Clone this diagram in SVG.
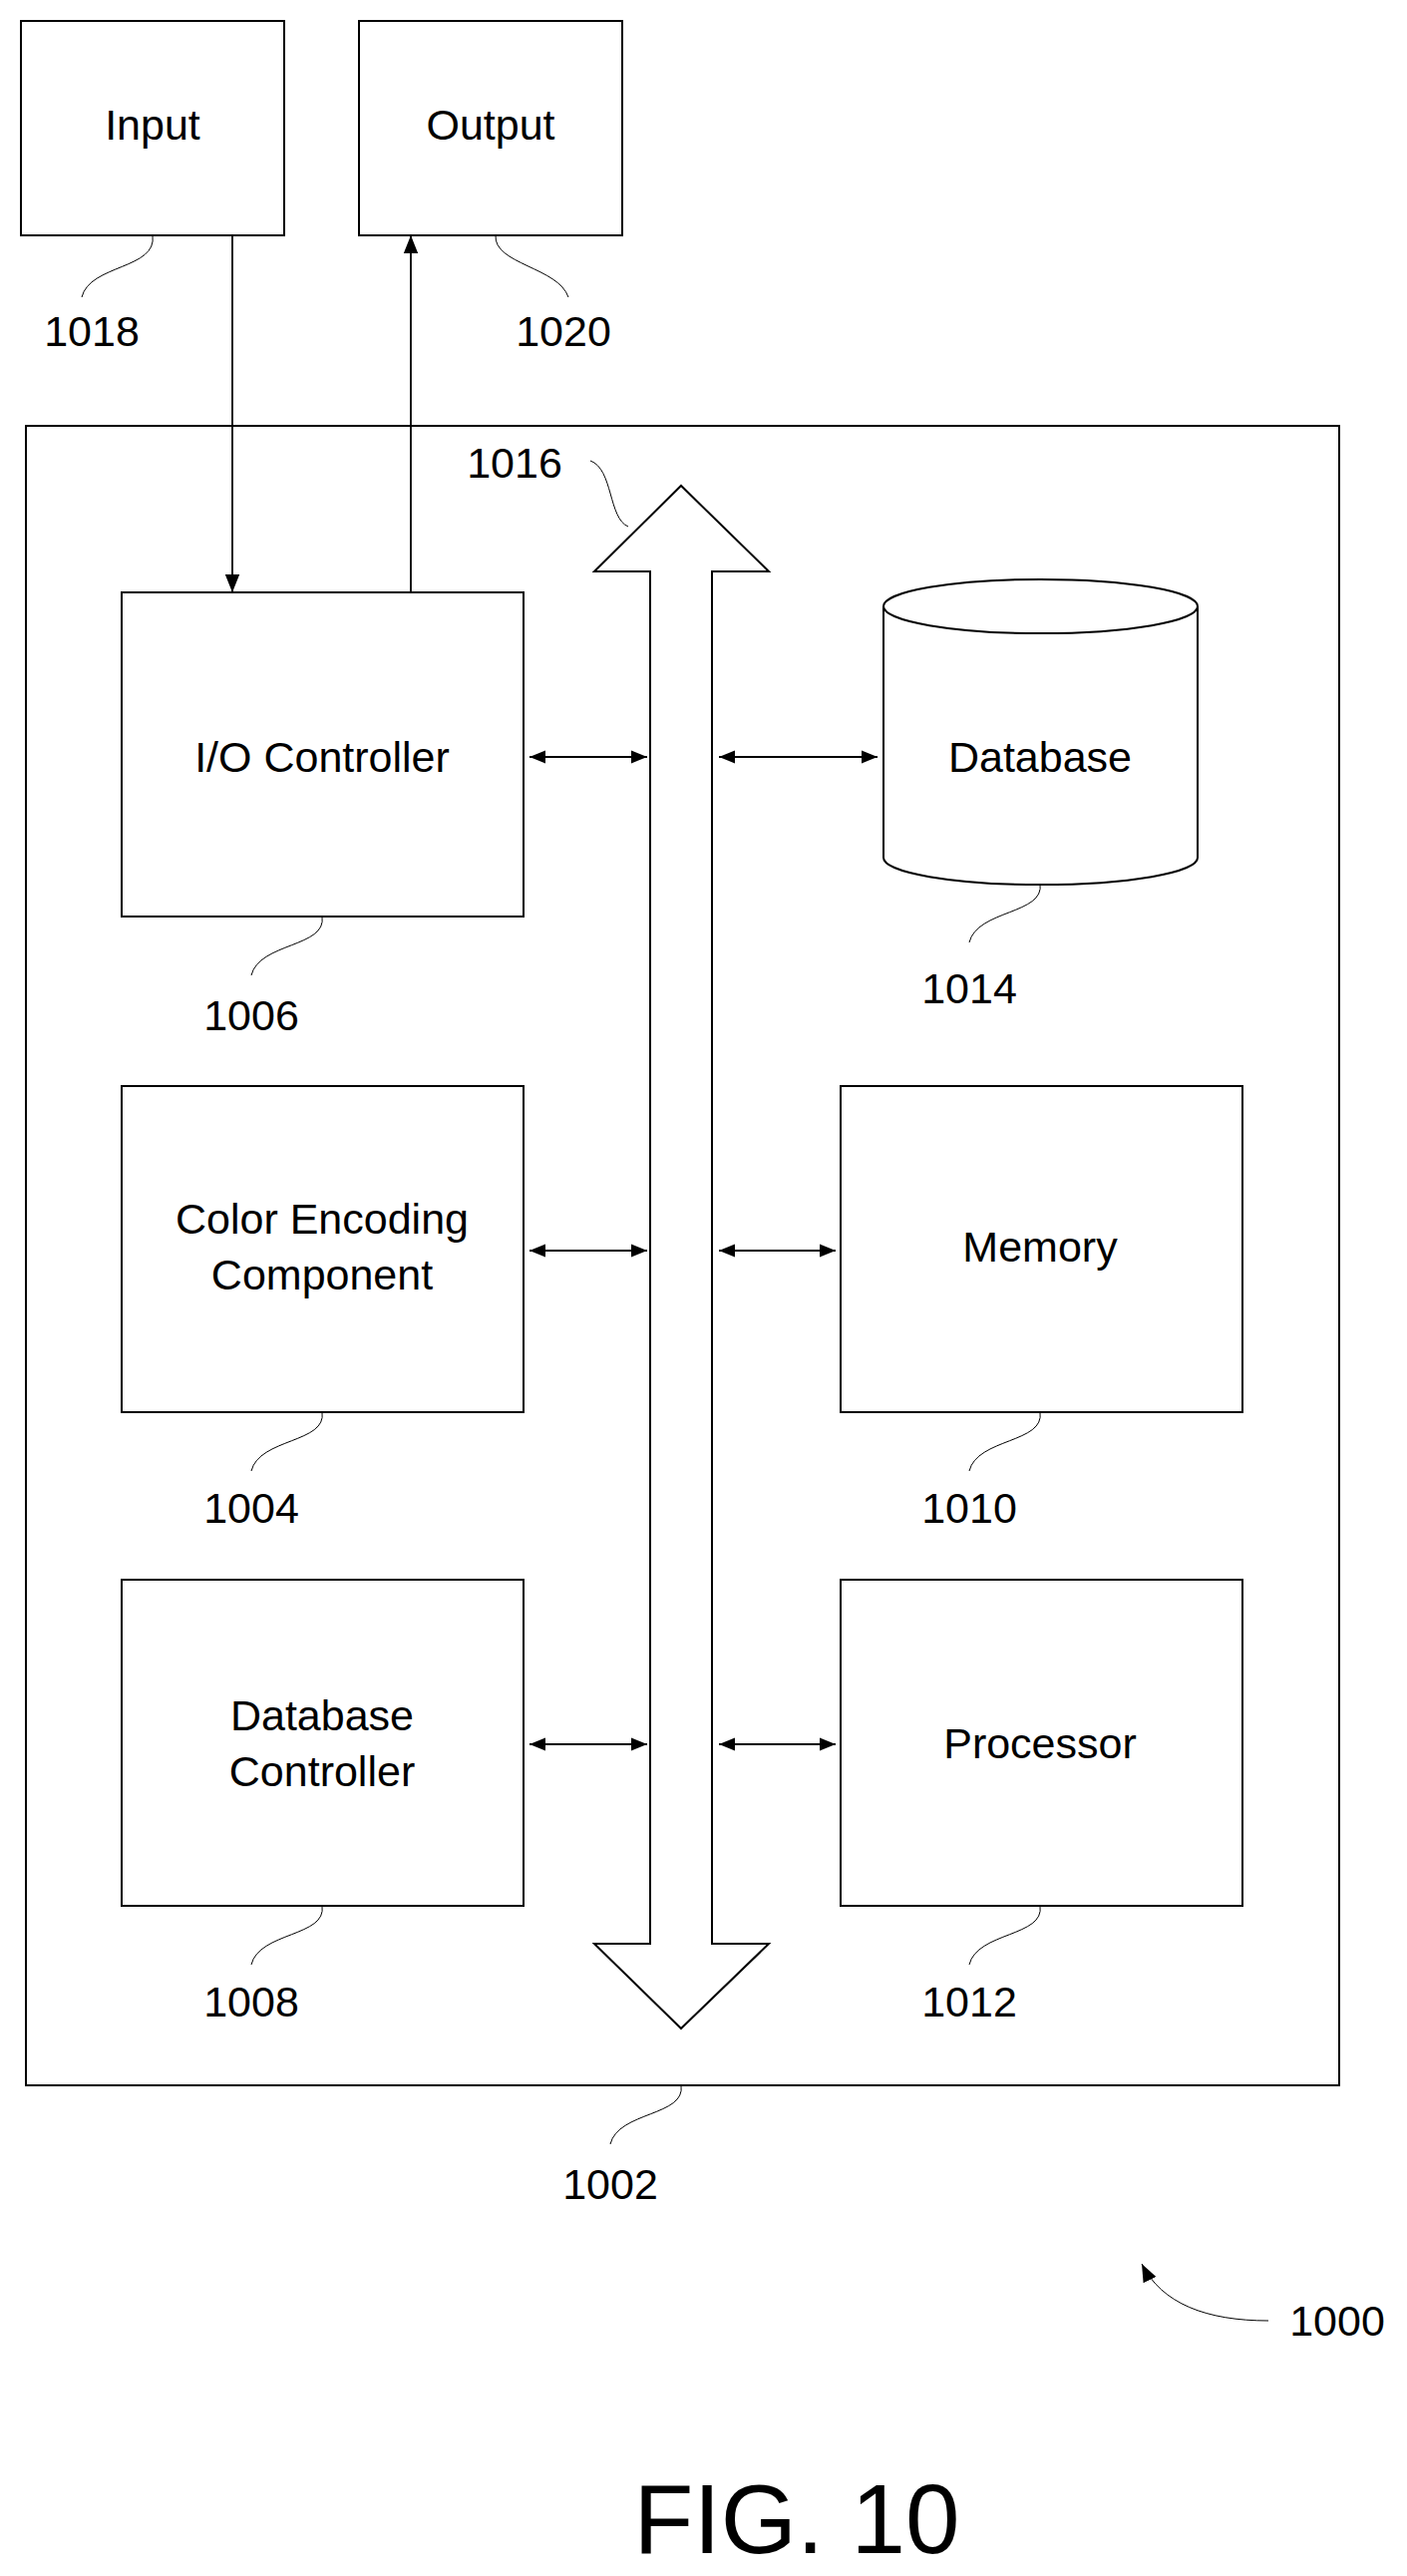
<svg xmlns="http://www.w3.org/2000/svg" width="1411" height="2583" viewBox="0 0 1411 2583">
<style>
.b{fill:#fff;stroke:#000;stroke-width:2}
.l{fill:none;stroke:#000;stroke-width:1.8}
.q{fill:none;stroke:#000;stroke-width:1}
text{font-family:"Liberation Sans",Arial,sans-serif;font-size:43px;fill:#000;text-anchor:middle}
</style>
<defs>
<marker id="a" viewBox="0 0 10 10" refX="10" refY="5" markerWidth="16" markerHeight="16" markerUnits="userSpaceOnUse" orient="auto-start-reverse"><path d="M0,1 L10,5 L0,9 z"/></marker>
<marker id="a2" viewBox="0 0 10 10" refX="10" refY="5" markerWidth="18" markerHeight="18" markerUnits="userSpaceOnUse" orient="auto-start-reverse"><path d="M0,1 L10,5 L0,9 z"/></marker>
</defs>
<rect width="1411" height="2583" fill="#fff"/>
<g id="n1002"><rect class="b" x="26" y="427" width="1317" height="1664"/><text x="612" y="2205">1002</text></g>
<g id="n1018"><rect class="b" x="21" y="21" width="264" height="215"/><text x="153" y="140">Input</text><text x="92" y="347">1018</text></g>
<g id="n1020"><rect class="b" x="360" y="21" width="264" height="215"/><text x="492" y="140">Output</text><text x="565" y="347">1020</text></g>
<g id="n1016"><path class="b" d="M652,573 L596,573 L683,487 L771,573 L714,573 L714,1949 L771,1949 L683,2034 L596,1949 L652,1949 Z"/><text x="516" y="479">1016</text></g>
<g id="n1006"><rect class="b" x="122" y="594" width="403" height="325"/><text x="323" y="774">I/O Controller</text><text x="252" y="1033">1006</text></g>
<g id="n1014"><path class="b" d="M886,608 A157,27 0 0 1 1201,608 L1201,860 A157,27 0 0 1 886,860 Z"/><path class="b" d="M886,608 A157,27 0 0 0 1201,608"/><text x="1043" y="774">Database</text><text x="972" y="1006">1014</text></g>
<g id="n1004"><rect class="b" x="122" y="1089" width="403" height="327"/><text x="323" y="1237">Color Encoding</text><text x="323" y="1293">Component</text><text x="252" y="1527">1004</text></g>
<g id="n1010"><rect class="b" x="843" y="1089" width="403" height="327"/><text x="1043" y="1265">Memory</text><text x="972" y="1527">1010</text></g>
<g id="n1008"><rect class="b" x="122" y="1584" width="403" height="327"/><text x="323" y="1735">Database</text><text x="323" y="1791">Controller</text><text x="252" y="2022">1008</text></g>
<g id="n1012"><rect class="b" x="843" y="1584" width="403" height="327"/><text x="1043" y="1763">Processor</text><text x="972" y="2022">1012</text></g>
<g id="n1000"><text x="1341" y="2342">1000</text><text x="799" y="2560" style="font-size:98px">FIG. 10</text></g>
<g id="connectors">
<path class="l" d="M233,236 V594" marker-end="url(#a2)"/>
<path class="l" d="M412,594 V236" marker-end="url(#a2)"/>
<path class="l" d="M531,759 H649" marker-start="url(#a)" marker-end="url(#a)"/>
<path class="l" d="M721,759 H880" marker-start="url(#a)" marker-end="url(#a)"/>
<path class="l" d="M531,1254 H649" marker-start="url(#a)" marker-end="url(#a)"/>
<path class="l" d="M721,1254 H838" marker-start="url(#a)" marker-end="url(#a)"/>
<path class="l" d="M531,1749 H649" marker-start="url(#a)" marker-end="url(#a)"/>
<path class="l" d="M721,1749 H838" marker-start="url(#a)" marker-end="url(#a)"/>
<path class="q" d="M153,236 C158,270 90,265 82,298"/>
<path class="q" d="M497,236 C495,265 560,268 570,298"/>
<path class="q" d="M592,462 C615,470 610,520 630,528"/>
<path class="q" d="M323,919 C328,950 260,945 252,978"/>
<path class="q" d="M1043,886 C1048,917 980,912 972,945"/>
<path class="q" d="M323,1416 C328,1447 260,1442 252,1475"/>
<path class="q" d="M1043,1416 C1048,1447 980,1442 972,1475"/>
<path class="q" d="M323,1911 C328,1942 260,1937 252,1970"/>
<path class="q" d="M1043,1911 C1048,1942 980,1937 972,1970"/>
<path class="q" d="M683,2091 C688,2122 620,2117 612,2150"/>
<path class="q" d="M1272,2327 C1210,2327 1165,2310 1145,2270" marker-end="url(#a2)"/>
</g>
</svg>
